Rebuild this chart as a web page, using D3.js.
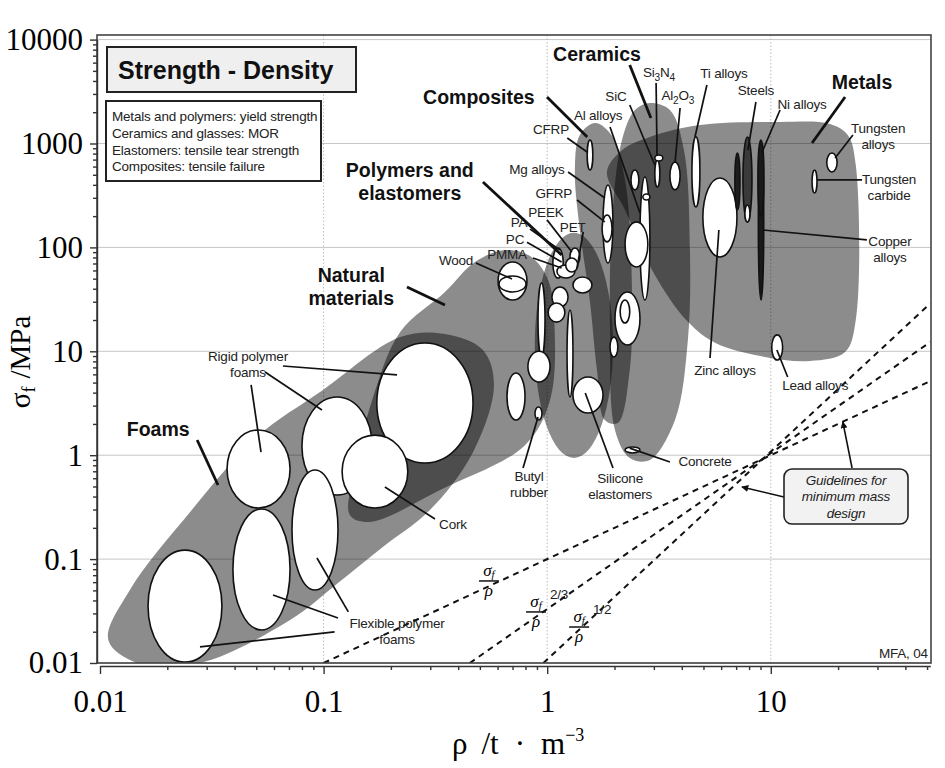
<!DOCTYPE html>
<html>
<head>
<meta charset="utf-8">
<title>Strength - Density</title>
<script src="https://cdn.jsdelivr.net/npm/d3@7/dist/d3.min.js"></script>
<style>
  html, body { margin: 0; padding: 0; background: #fff; }
  svg { display: block; }
  .lbl { font-family: "Liberation Sans", Arial, sans-serif; font-size: 13.5px; fill: #222; letter-spacing: -0.2px; }
  .grp { font-family: "Liberation Sans", Arial, sans-serif; font-size: 19.5px; font-weight: bold; fill: #111; }
  .axis text { font-family: "Liberation Serif", "Times New Roman", serif; font-size: 31px; fill: #000; }
  .axis line, .axis path { stroke: #333; }
  .serif { font-family: "Liberation Serif", "Times New Roman", serif; }
</style>
</head>
<body>
<div id="chart"></div>
<script>
;(function() {

// Axis ticks
const xTickValues = [0.01, 0.1, 1, 10];
const xTickLabels = ['0.01', '0.1', '1', '10'];
const yTickValues = [0.01, 0.1, 1, 10, 100, 1000, 10000];
const yTickLabels = ['0.01', '0.1', '1', '10', '100', '1000', '10000'];

// Family envelopes, outline points [density t/m3, strength MPa]
const foamsEnvelope = [[0.0109,0.0166],[0.0151,0.0098],[0.028,0.01],[0.0708,0.0259],[0.116,0.0589],[0.184,0.131],
  [0.299,0.297],[0.466,1.07],[0.578,4.74],[0.516,10.3],[0.349,14.7],[0.22,13.7],[0.0994,4.24],[0.0504,1.5],
  [0.0253,0.284],[0.0136,0.0504]];
const naturalEnvelope = [[0.22,15.3],[0.349,37.2],[0.475,72.4],[0.647,94.4],[0.838,82.7],[1.01,48.6],[1.08,16],
  [1.03,3.4],[0.796,1.25],[0.332,0.463],[0.161,0.228],[0.131,0.266],[0.138,0.721],[0.165,3.4]];
const compositesEnvelope = [[1.33,556],[1.40,1208],[1.64,1576],[1.95,1184],[2.23,446],[2.39,48.6],[2.34,6.61],
  [2.07,2.04],[1.81,2.18],[1.67,6.61],[1.55,31.2],[1.40,147]];
const ceramicsEnvelope = [[2.88,2455],[3.54,2102],[4.09,863],[4.35,94.4],[4.26,12.9],[3.73,2.18],[2.88,0.9],
  [2.34,0.94],[2.01,1.75],[1.91,16],[1.95,184],[2.16,1081],[2.47,2102]];
const metalsEnvelope = [[1.85,532],[2.16,863],[2.88,1158],[4.82,1508],[11,1611],[18.4,1541],[22.1,1208],[24,621],
  [24,20],[21.5,9.85],[15,8.07],[9.42,8.82],[5.66,12],[4.26,19.2],[3.03,54.3],[2.23,229]];
const polymersRange = { rho: [0.88, 1.97], sigma: [0.94, 138] };

// Material bubbles: density range, strength range
const naturalBubbles = [
  { name: 'Wood', rho: [0.603, 0.812], sigma: [31.2, 72.4] },
  { name: 'Wood, transverse', rho: [0.609, 0.804], sigma: [37.2, 53.1] },
  { name: 'Natural fibre', rho: [0.661, 0.796], sigma: [2.18, 6.18] }
];
const foamBubbles = [
  { name: 'Rigid foam, high density', rho: [0.173, 0.466], sigma: [0.841, 12.0] },
  { name: 'Rigid foam, medium density', rho: [0.080, 0.165], sigma: [0.414, 3.63] },
  { name: 'Rigid foam, low density', rho: [0.037, 0.0708], sigma: [0.31, 1.75] },
  { name: 'Cork', rho: [0.121, 0.238], sigma: [0.31, 1.56] },
  { name: 'Flexible foam, low density', rho: [0.0164, 0.0351], sigma: [0.0102, 0.122] },
  { name: 'Flexible foam, medium density', rho: [0.0393, 0.0708], sigma: [0.0208, 0.304] },
  { name: 'Flexible foam, high density', rho: [0.0722, 0.116], sigma: [0.0504, 0.721] }
];
const polymerBubbles = [
  { name: 'PE', rho: [0.91, 0.978], sigma: [8.81, 45.4] },
  { name: 'Ionomer', rho: [0.82, 1.03], sigma: [5.07, 10] },
  { name: 'PTFE', rho: [1.227, 1.304], sigma: [3.63, 25] },
  { name: 'PMMA', rho: [1.05, 1.24], sigma: [26.7, 41.6] },
  { name: 'ABS', rho: [1.01, 1.20], sigma: [19.1, 29.2] },
  { name: 'PA', rho: [1.06, 1.18], sigma: [50.7, 98.6] },
  { name: 'PC', rho: [1.106, 1.33], sigma: [50.7, 67.7] },
  { name: 'PEEK', rho: [1.265, 1.40], sigma: [67.7, 98.6] },
  { name: 'PET', rho: [1.21, 1.37], sigma: [58, 79] },
  { name: 'PVC', rho: [1.304, 1.586], sigma: [36.4, 51.9] },
  { name: 'Butyl rubber', rho: [0.882, 0.948], sigma: [2.18, 2.91] },
  { name: 'Silicone elastomers', rho: [1.304, 1.777], sigma: [2.55, 5.66] }
];
const compositeBubbles = [
  { name: 'CFRP', rho: [1.51, 1.60], sigma: [556, 1081] },
  { name: 'Mg alloys', rho: [1.777, 1.968], sigma: [70.8, 399] },
  { name: 'GFRP', rho: [1.76, 1.95], sigma: [113, 205] }
];
const ceramicBubbles = [
  { name: 'Glass ceramic', rho: [2.37, 2.57], sigma: [358, 556] },
  { name: 'Al alloys', rho: [2.60, 2.88], sigma: [31.2, 476] },
  { name: 'Al alloys, cast', rho: [2.68, 2.88], sigma: [286, 327] },
  { name: 'Silica glass', rho: [2.23, 2.82], sigma: [64.8, 176] },
  { name: 'Stone', rho: [2.01, 2.60], sigma: [11.5, 37.2] },
  { name: 'Stone, porous', rho: [2.12, 2.34], sigma: [18.7, 31.2] },
  { name: 'Brick', rho: [1.91, 2.07], sigma: [8.82, 13.7] },
  { name: 'Concrete', rho: [2.23, 2.60], sigma: [1.05, 1.2] },
  { name: 'SiC', rho: [3.03, 3.19], sigma: [381, 694] },
  { name: 'Si3N4', rho: [3.03, 3.29], sigma: [679, 775] },
  { name: 'Al2O3', rho: [3.54, 3.93], sigma: [358, 664] }
];
const metalBubbles = [
  { name: 'Ti alloys', rho: [4.44, 4.82], sigma: [245, 1158] },
  { name: 'Zinc alloys', rho: [4.97, 7.06], sigma: [80.9, 466] },
  { name: 'Cast irons', rho: [6.91, 7.28], sigma: [229, 810] },
  { name: 'Steels', rho: [7.51, 8.24], sigma: [176, 1156] },
  { name: 'Steels, low carbon', rho: [7.66, 8.07], sigma: [176, 256] },
  { name: 'Copper alloys', rho: [8.8, 9.3], sigma: [31.2, 1000] },
  { name: 'Ni alloys', rho: [8.76, 9.32], sigma: [200, 1081] },
  { name: 'Tungsten carbide', rho: [15.3, 16.1], sigma: [334, 556] },
  { name: 'Tungsten alloys', rho: [17.8, 19.8], sigma: [532, 810] },
  { name: 'Lead alloys', rho: [10.1, 11.3], sigma: [8.24, 14.4] }
];

// Minimum mass design guidelines: sigma^m / rho = C
const guideExponent = [1, 2 / 3, 1 / 2];
const guideConstant = [0.1, 0.103, 0.104];
const guideIndexText = ['', '2/3', '1/2'];
const guideLabelAt = [[0.549, 0.0616], [0.891, 0.031], [1.39, 0.0222]];

// Annotations (anchors in data units)
const familyLabels = [
  { text: ['Ceramics'], at: [1.67, 7270], leaders: [[[2.34, 5700], [2.91, 1760]]] },
  { text: ['Composites'], at: [0.495, 2804], leaders: [[[0.998, 2804], [1.51, 1156]]] },
  { text: ['Polymers and', 'elastomers'], at: [0.243, 431], leaders: [[[0.516, 426], [1.16, 84.5]]] },
  { text: ['Natural', 'materials'], at: [0.133, 41.6], leaders: [[[0.236, 41.6], [0.349, 27.9]]] },
  { text: ['Foams'], at: [0.0182, 1.79], leaders: [[[0.0272, 1.40], [0.0337, 0.517]]] },
  { text: ['Metals'], at: [25.6, 3908], leaders: [[[21.5, 2804], [15.3, 1012]]] }
];
const materialLabels = [
  { text: ['Si_3N_4'], at: [3.16, 4880], leaders: [[[3.07, 3824], [3.10, 775]]] },
  { text: ['SiC'], at: [2.03, 2867], leaders: [[[2.34, 2348], [3.03, 621]]] },
  { text: ['Al_2O_3'], at: [3.84, 2931], leaders: [[[3.93, 2198], [3.73, 649]]] },
  { text: ['Al alloys'], at: [1.69, 1882], leaders: [[[1.91, 1442], [2.60, 214]]] },
  { text: ['CFRP'], at: [1.04, 1380], leaders: [[[1.23, 1130], [1.52, 819]]] },
  { text: ['Mg alloys'], at: [0.90, 569], leaders: [[[1.24, 532], [1.81, 299]]] },
  { text: ['GFRP'], at: [1.07, 334], leaders: [[[1.36, 286], [1.81, 176]]] },
  { text: ['PEEK'], at: [0.987, 219], leaders: [[[0.998, 184], [1.29, 90.4]]] },
  { text: ['PA'], at: [0.748, 174], leaders: [[[0.838, 150], [1.14, 94.4]]] },
  { text: ['PC'], at: [0.718, 120], leaders: [[[0.812, 112], [1.16, 72.4]]] },
  { text: ['PET'], at: [1.30, 157], leaders: [[[1.45, 141], [1.36, 63.4]]] },
  { text: ['PMMA'], at: [0.661, 86], leaders: [[[0.864, 79.1], [1.16, 63.4]]] },
  { text: ['Wood'], at: [0.391, 75.7], leaders: [[[0.48, 70.8], [0.696, 49.7]]] },
  { text: ['Ti alloys'], at: [6.17, 4770], leaders: [[[5.18, 3658], [4.58, 1156]]] },
  { text: ['Steels'], at: [8.58, 3274], leaders: [[[8.58, 2509], [7.9, 863]]] },
  { text: ['Ni alloys'], at: [13.8, 2401], leaders: [[[11.0, 2102], [9.13, 819]]] },
  { text: ['Tungsten', 'alloys'], at: [30.2, 1184], leaders: [[[23.3, 1208], [19.4, 725]]] },
  { text: ['Tungsten', 'carbide'], at: [33.8, 381], leaders: [[[25.6, 446], [16.1, 446]]] },
  { text: ['Copper', 'alloys'], at: [34.1, 95.5], leaders: [[[26.9, 118], [9.23, 147]]] },
  { text: ['Zinc alloys'], at: [6.24, 6.61], leaders: [[[5.35, 8.61], [5.86, 147]]] },
  { text: ['Lead alloys'], at: [15.8, 4.74], leaders: [[[11.9, 5.66], [10.65, 10.3]]] },
  { text: ['Concrete'], at: [5.08, 0.88], leaders: [[[3.54, 0.86], [2.34, 1.17]]] },
  { text: ['Butyl', 'rubber'], at: [0.829, 0.528], leaders: [[[0.78, 0.753], [0.91, 2.33]]] },
  { text: ['Silicone', 'elastomers'], at: [2.12, 0.50], leaders: [[[1.97, 0.753], [1.48, 3.97]]] },
  { text: ['Cork'], at: [0.379, 0.218], leaders: [[[0.315, 0.243], [0.188, 0.494]]] },
  { text: ['Rigid polymer', 'foams'], at: [0.0459, 7.55], leaders: [
      [[0.0658, 7.22], [0.213, 5.92]], [[0.0547, 6.32], [0.0983, 2.72]], [[0.0474, 4.74], [0.0525, 1.07]]] },
  { text: ['Flexible polymer', 'foams'], at: [0.213, 0.0201], leaders: [
      [[0.112, 0.0199], [0.028, 0.0143]], [[0.116, 0.0271], [0.0594, 0.0451]], [[0.129, 0.031], [0.0934, 0.1025]]] }
];
const guideBoxText = ['Guidelines for', 'minimum mass', 'design'];
const guideBoxAt = [21.7, 0.40];
const guideArrows = [[[11.45, 0.396], [7.43, 0.494]], [[23.1, 0.753], [21.0, 2.09]]];
const titleText = 'Strength - Density';
const noteLines = ['Metals and polymers: yield strength', 'Ceramics and glasses: MOR',
  'Elastomers: tensile tear strength', 'Composites: tensile failure'];

// Dark-filled bubbles
const bubbleFill = { 'Cast irons': '#1e1e1e', 'Steels': '#3a3a3a', 'Copper alloys': '#1a1a1a', 'Ni alloys': '#1a1a1a' };

// ---- layout ----
const W = 945, H = 768;
const plot = { left: 97, top: 35, right: 931, bottom: 663 };

const x = d3.scaleLog().domain([0.01, 51.7]).range([100, 930.3]);
const y = d3.scaleLog().domain([0.01, 10000]).range([663, 39.6]);

const svg = d3.select('#chart').append('svg')
  .attr('width', W)
  .attr('height', H);

const defs = svg.append('defs');
defs.append('clipPath').attr('id', 'plotClip')
  .append('rect')
  .attr('x', plot.left).attr('y', plot.top)
  .attr('width', plot.right - plot.left).attr('height', plot.bottom - plot.top);
defs.append('marker')
  .attr('id', 'arrow')
  .attr('viewBox', '0 0 10 10')
  .attr('refX', 9).attr('refY', 5)
  .attr('markerWidth', 7).attr('markerHeight', 7)
  .attr('markerUnits', 'userSpaceOnUse')
  .attr('orient', 'auto')
  .append('path').attr('d', 'M0,0 L10,5 L0,10 z').attr('fill', '#111');

// Grid
const grid = svg.append('g').attr('class', 'grid');
grid.selectAll('line.h')
  .data(yTickValues)
  .enter().append('line')
  .attr('class', 'h')
  .attr('x1', plot.left).attr('x2', plot.right)
  .attr('y1', d => y(d)).attr('y2', d => y(d))
  .attr('stroke', '#c6c6c6').attr('stroke-width', 1);
grid.selectAll('line.v')
  .data(xTickValues.slice(1))
  .enter().append('line')
  .attr('class', 'v')
  .attr('y1', plot.top).attr('y2', plot.bottom)
  .attr('x1', d => x(d)).attr('x2', d => x(d))
  .attr('stroke', '#bbb').attr('stroke-width', 1)
  .attr('stroke-dasharray', '1.5,2');

// Envelopes
const envLine = d3.line()
  .x(d => x(d[0]))
  .y(d => y(d[1]))
  .curve(d3.curveCatmullRomClosed.alpha(0.5));

const envG = svg.append('g').attr('clip-path', 'url(#plotClip)');
const ellipse = sel => sel
  .attr('cx', d => (x(d.rho[0]) + x(d.rho[1])) / 2)
  .attr('cy', d => (y(d.sigma[0]) + y(d.sigma[1])) / 2)
  .attr('rx', d => Math.abs(x(d.rho[1]) - x(d.rho[0])) / 2)
  .attr('ry', d => Math.abs(y(d.sigma[0]) - y(d.sigma[1])) / 2);

[foamsEnvelope, naturalEnvelope].forEach(pts => {
  envG.append('path').attr('d', envLine(pts))
    .attr('fill', '#000').attr('fill-opacity', 0.45);
});
envG.append('ellipse').datum(polymersRange).call(ellipse)
  .attr('fill', '#000').attr('fill-opacity', 0.45);
[compositesEnvelope, ceramicsEnvelope, metalsEnvelope].forEach(pts => {
  envG.append('path').attr('d', envLine(pts))
    .attr('fill', '#000').attr('fill-opacity', 0.45);
});

// Guidelines
const guideG = svg.append('g').attr('clip-path', 'url(#plotClip)');
guideExponent.forEach((m, i) => {
  const C = guideConstant[i];
  const rhoStart = Math.pow(y.domain()[0], m) / C;
  const rhoEnd = x.domain()[1];
  const pts = [rhoStart, rhoEnd].map(r => [r, Math.pow(C * r, 1 / m)]);
  guideG.append('path')
    .attr('d', d3.line().x(d => x(d[0])).y(d => y(d[1]))(pts))
    .attr('fill', 'none').attr('stroke', '#111')
    .attr('stroke-width', 2).attr('stroke-dasharray', '6,5');
});

// Bubbles
const allBubbles = [].concat(naturalBubbles, foamBubbles, polymerBubbles,
  compositeBubbles, ceramicBubbles, metalBubbles);
svg.append('g').attr('clip-path', 'url(#plotClip)')
  .selectAll('ellipse')
  .data(allBubbles)
  .enter().append('ellipse')
  .call(ellipse)
  .attr('fill', d => bubbleFill[d.name] || '#fff')
  .attr('stroke', '#111')
  .attr('stroke-width', 1.6);

// Labels with leaders
const annot = svg.append('g');
function addText(cls, lines, cx, cy, lineH) {
  const t = annot.append('text').attr('class', cls).attr('text-anchor', 'middle');
  lines.forEach((ln, i) => {
    const row = t.append('tspan')
      .attr('x', cx)
      .attr('y', cy + (i - (lines.length - 1) / 2) * lineH)
      .attr('dy', '0.35em');
    let shift = 0;
    ln.split(/(_\d)/).filter(s => s.length).forEach(part => {
      if (part[0] === '_') {
        row.append('tspan').attr('dy', 4 - shift).attr('font-size', '0.75em').text(part.slice(1));
        shift = 4;
      } else {
        const s = row.append('tspan').text(part);
        if (shift) s.attr('dy', -shift);
        shift = 0;
      }
    });
  });
}
function addLeaders(leaders, width) {
  leaders.forEach(l => {
    annot.append('line')
      .attr('x1', x(l[0][0])).attr('y1', y(l[0][1]))
      .attr('x2', x(l[1][0])).attr('y2', y(l[1][1]))
      .attr('stroke', '#111').attr('stroke-width', width);
  });
}
materialLabels.forEach(d => {
  addLeaders(d.leaders, 1.7);
  addText('lbl', d.text, x(d.at[0]), y(d.at[1]), 16);
});
familyLabels.forEach(d => {
  addLeaders(d.leaders, 2.8);
  addText('grp', d.text, x(d.at[0]), y(d.at[1]), 23);
});

// Guideline index labels
guideLabelAt.forEach((p, i) => {
  const g = annot.append('g').attr('transform', `translate(${x(p[0])},${y(p[1])})`);
  const s = g.append('text').attr('class', 'serif').attr('font-style', 'italic')
    .attr('font-size', 17).attr('text-anchor', 'middle').attr('y', -5);
  s.append('tspan').text('σ');
  s.append('tspan').attr('font-size', 11).attr('dy', 2).text('f');
  g.append('line').attr('x1', -10).attr('x2', 10).attr('y1', 0).attr('y2', 0)
    .attr('stroke', '#111').attr('stroke-width', 1.5);
  g.append('text').attr('class', 'serif').attr('font-style', 'italic')
    .attr('font-size', 17).attr('text-anchor', 'middle').attr('y', 15).text('ρ');
  if (guideIndexText[i]) {
    g.append('text').attr('class', 'lbl').attr('font-size', 12.5)
      .attr('x', 23).attr('y', -13)
      .attr('text-anchor', 'middle').text(guideIndexText[i]);
  }
});

// Guideline note box and arrows
guideArrows.forEach(a => {
  annot.append('line')
    .attr('x1', x(a[0][0])).attr('y1', y(a[0][1]))
    .attr('x2', x(a[1][0])).attr('y2', y(a[1][1]))
    .attr('stroke', '#111').attr('stroke-width', 1.6)
    .attr('marker-end', 'url(#arrow)');
});
const bx = x(guideBoxAt[0]), by = y(guideBoxAt[1]);
annot.append('rect')
  .attr('x', bx - 62).attr('y', by - 27.5).attr('width', 124).attr('height', 55)
  .attr('rx', 8).attr('fill', '#f2f2f2').attr('stroke', '#222').attr('stroke-width', 1.6);
const gt = annot.append('text').attr('class', 'lbl').attr('font-style', 'italic')
  .attr('font-size', 15.5).attr('text-anchor', 'middle');
guideBoxText.forEach((ln, i) => {
  gt.append('tspan').attr('x', bx).attr('y', by + (i - 1) * 16.5).attr('dy', '0.35em').text(ln);
});

annot.append('text').attr('class', 'lbl').attr('font-size', 10)
  .attr('text-anchor', 'end').attr('x', x(50.4)).attr('y', y(0.0125)).attr('dy', '0.35em')
  .text('MFA, 04');

// Frame
svg.append('rect')
  .attr('x', plot.left).attr('y', plot.top)
  .attr('width', plot.right - plot.left).attr('height', plot.bottom - plot.top)
  .attr('fill', 'none').attr('stroke', '#444').attr('stroke-width', 1.6);

// Axes with log minor ticks
const minorTicks = (lo, hi) => {
  const out = [];
  for (let e = Math.log10(lo); e <= Math.log10(hi); e++) {
    for (let k = 1; k <= 9; k++) {
      const v = +(k * Math.pow(10, e)).toPrecision(6);
      if (v >= lo && v <= hi * 1.0001) out.push(v);
    }
  }
  return out;
};
const isDecade = v => Math.abs(Math.log10(v) - Math.round(Math.log10(v))) < 1e-6;

const xAxis = d3.axisBottom(x)
  .tickValues(minorTicks(0.01, 51.7))
  .tickSize(8).tickSizeOuter(0).tickPadding(16)
  .tickFormat(d => {
    const i = xTickValues.findIndex(v => Math.abs(v - d) / v < 1e-6);
    return i >= 0 ? xTickLabels[i] : '';
  });
const gx = svg.append('g').attr('class', 'axis')
  .attr('transform', `translate(0,${plot.bottom + 3})`)
  .call(xAxis);
gx.selectAll('.tick line').attr('y2', d => isDecade(d) ? 8 : 4).attr('stroke-width', 1.4);
gx.select('.domain').attr('stroke-width', 1.4);

const yAxis = d3.axisLeft(y)
  .tickValues(minorTicks(0.01, 10000))
  .tickSize(7).tickSizeOuter(0).tickPadding(7)
  .tickFormat(d => {
    const i = yTickValues.findIndex(v => Math.abs(v - d) / v < 1e-6);
    return i >= 0 ? yTickLabels[i] : '';
  });
const gy = svg.append('g').attr('class', 'axis')
  .attr('transform', `translate(${plot.left},0)`)
  .call(yAxis);
gy.selectAll('.tick line').attr('x2', d => isDecade(d) ? -7 : -4).attr('stroke-width', 1.4);
gy.select('.domain').attr('stroke-width', 1.4);

// Axis titles
const yt = svg.append('text').attr('class', 'serif').attr('font-size', 29)
  .attr('text-anchor', 'middle')
  .attr('transform', 'translate(30,362) rotate(-90)');
yt.append('tspan').text('σ');
yt.append('tspan').attr('font-size', 18).attr('dy', 5).text('f');
yt.append('tspan').attr('dy', -5).attr('dx', 8).text('/MPa');

const xt = svg.append('text').attr('class', 'serif').attr('font-size', 31)
  .attr('x', 452).attr('y', 754);
xt.append('tspan').text('ρ');
xt.append('tspan').attr('dx', 14).text('/t');
xt.append('tspan').attr('dx', 16).text('·');
xt.append('tspan').attr('dx', 16).text('m');
xt.append('tspan').attr('font-size', 18).attr('dy', -13).text('−3');

// Title and note boxes
svg.append('rect').attr('x', 107).attr('y', 47).attr('width', 249).attr('height', 45)
  .attr('fill', '#efefef').attr('stroke', '#222').attr('stroke-width', 2);
svg.append('text').attr('x', 118).attr('y', 79)
  .attr('font-family', '"Liberation Sans", Arial, sans-serif')
  .attr('font-weight', 'bold').attr('font-size', 25).attr('fill', '#111')
  .text(titleText);
svg.append('rect').attr('x', 106).attr('y', 101).attr('width', 215).attr('height', 80)
  .attr('fill', '#fff').attr('stroke', '#222').attr('stroke-width', 2);
const nt = svg.append('text').attr('class', 'lbl').attr('font-size', 12.8);
noteLines.forEach((ln, i) => {
  nt.append('tspan').attr('x', 112).attr('y', 121 + i * 16.8).text(ln);
});

})();
</script>
</body>
</html>
